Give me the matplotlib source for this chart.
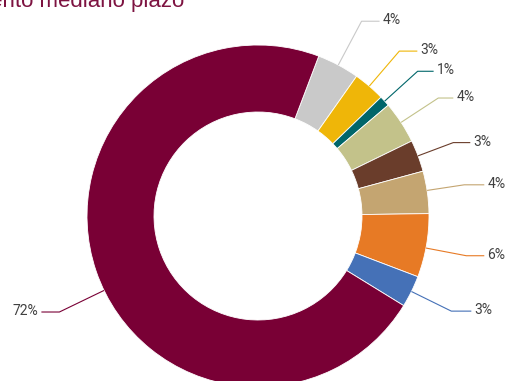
import numpy as np
import matplotlib
matplotlib.use("Agg")
import matplotlib.pyplot as plt

# Share of each funding source (percent), clockwise from the top
sources = ["Fuente A", "Fuente B", "Fuente C", "Fuente D", "Fuente E",
           "Fuente F", "Fuente G", "Fuente H", "Fuente I"]
shares = [4, 3, 1, 4, 3, 4, 6, 3, 72]
colors = ["#C9C9C9", "#EFB608", "#00666A", "#C3C28A", "#6A3D2B",
          "#C4A571", "#E77A25", "#4571B7", "#790035"]

# Leader-line elbow distance (in radii) and angular nudge (degrees) per label
label_dist = [1.29, 1.27, 1.26, 1.26, 1.22, 1.22, 1.24, 1.26, 1.29]
label_nudge = [0, 0, 0, 0, 0, 0.6, -0.8, 0, 7.0]
arm_len = [18, 18, 16, 15, 17, 20, 18, 20, 18]

title = "Financiamiento mediano plazo"

W, H = 510, 381
fig = plt.figure(figsize=(W / 100, H / 100), dpi=100)
ax = fig.add_axes([0, 0, 1, 1])

cx, cy, R = 258, 165, 171
wedges, _ = ax.pie(shares, colors=colors, startangle=69.2, counterclock=False,
                   radius=R, center=(cx, cy),
                   wedgeprops=dict(width=R - 104, edgecolor="white", linewidth=0.6))

ax.set_xlim(0, W)
ax.set_ylim(0, H)
ax.set_aspect("equal")
ax.axis("off")

# Leader lines and percentage labels
for w, val, col, dist, nudge, arm in zip(wedges, shares, colors,
                                         label_dist, label_nudge, arm_len):
    mid = np.deg2rad((w.theta1 + w.theta2) / 2 + nudge)
    x0, y0 = cx + R * np.cos(mid), cy + R * np.sin(mid)
    x1, y1 = cx + dist * R * np.cos(mid), cy + dist * R * np.sin(mid)
    side = 1 if np.cos(mid) >= 0 else -1
    x2 = x1 + side * arm
    ax.plot([x0, x1, x2], [y0, y1, y1], color=col, lw=0.8,
            solid_capstyle="butt", clip_on=False)
    ax.text(x2 + side * 3, y1 + 1, f"{val}%", ha="left" if side > 0 else "right",
            va="center", fontsize=10, color="#404040", family="Roboto")

ax.text(184, H - 7, title, ha="right", va="baseline", fontsize=16,
        color="#7D1341", family="Liberation Sans")

fig.savefig("out.png", dpi=100)
